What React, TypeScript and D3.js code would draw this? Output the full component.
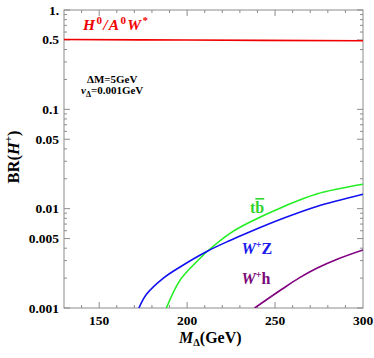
import { useEffect, useRef } from 'react';
import * as d3 from 'd3';

// masses (GeV) and branching ratios
const redMass = [130, 200, 300];
const redBR = [0.505, 0.498, 0.49];

const wzMass = [172.6, 177, 186.5, 196, 211.7, 224.4, 235.8, 254.7, 273.7, 300];
const wzBR = [0.001, 0.00138, 0.002, 0.00259, 0.00375, 0.00479, 0.00586, 0.008, 0.01052, 0.01396];

const tbMass = [188.2, 196, 205.4, 211.7, 224.4, 235.8, 254.7, 273.7, 300];
const tbBR = [0.001, 0.00191, 0.00292, 0.00375, 0.00565, 0.00734, 0.01047, 0.01406, 0.01759];

const whMass = [238.4, 254.7, 264, 273.7, 286, 300];
const whBR = [0.001, 0.00158, 0.00202, 0.00251, 0.00313, 0.00384];

const xTicks = [150, 200, 250, 300];
const yTicks = [1, 0.5, 0.1, 0.05, 0.01, 0.005, 0.001];
const yTickLabels = ['1.', '0.5', '0.1', '0.05', '0.01', '0.005', '0.001'];

const W = 374;
const H = 358;
const font = '"Liberation Serif", "Times New Roman", serif';

function App() {
  const svgRef = useRef<SVGSVGElement | null>(null);

  useEffect(() => {
    if (!svgRef.current) return;
    const svg = d3.select(svgRef.current);
    svg.selectAll('*').remove();

    const left = 64, right = 363, top = 10, bottom = 308;
    const x = d3.scaleLinear().domain([130, 300]).range([left, right]);
    const y = d3.scaleLog().domain([0.001, 1]).range([bottom, top]);

    const axisColor = '#8c8c8c';

    // frame
    svg.append('rect')
      .attr('x', left).attr('y', top)
      .attr('width', right - left).attr('height', bottom - top)
      .attr('fill', 'none').attr('stroke', axisColor).attr('stroke-width', 1);

    // x ticks (bottom and top)
    d3.range(140, 300, 10).forEach(v => {
      const len = v % 50 === 0 ? 6 : 3;
      const px = x(v);
      svg.append('line').attr('x1', px).attr('x2', px).attr('y1', bottom).attr('y2', bottom - len)
        .attr('stroke', axisColor);
      svg.append('line').attr('x1', px).attr('x2', px).attr('y1', top).attr('y2', top + len)
        .attr('stroke', axisColor);
    });

    // y ticks (left and right)
    const minor: number[] = [];
    [0.001, 0.01, 0.1].forEach(p => [2, 3, 4, 6, 7, 8, 9].forEach(d => minor.push(p * d)));
    minor.forEach(v => {
      const py = y(v);
      svg.append('line').attr('x1', left).attr('x2', left + 3).attr('y1', py).attr('y2', py).attr('stroke', axisColor);
      svg.append('line').attr('x1', right).attr('x2', right - 3).attr('y1', py).attr('y2', py).attr('stroke', axisColor);
    });
    yTicks.forEach(v => {
      const py = y(v);
      svg.append('line').attr('x1', left).attr('x2', left + 6).attr('y1', py).attr('y2', py).attr('stroke', axisColor);
      svg.append('line').attr('x1', right).attr('x2', right - 6).attr('y1', py).attr('y2', py).attr('stroke', axisColor);
    });

    // tick labels
    yTicks.forEach((v, i) => {
      svg.append('text')
        .attr('x', left - 5).attr('y', y(v))
        .attr('text-anchor', 'end').attr('dominant-baseline', 'central')
        .attr('font-family', font).attr('font-weight', 'bold').attr('font-size', 13.5)
        .text(yTickLabels[i]);
    });
    xTicks.forEach(v => {
      svg.append('text')
        .attr('x', x(v)).attr('y', 325)
        .attr('text-anchor', 'middle')
        .attr('font-family', font).attr('font-weight', 'bold').attr('font-size', 13.5)
        .text(v);
    });

    // curves
    const clip = svg.append('clipPath').attr('id', 'plotclip');
    clip.append('rect').attr('x', left).attr('y', top).attr('width', right - left).attr('height', bottom - top);

    const line = d3.line<[number, number]>()
      .x(d => x(d[0]))
      .y(d => y(d[1]))
      .curve(d3.curveCatmullRom.alpha(0.5));

    const series: { m: number[]; br: number[]; color: string }[] = [
      { m: redMass, br: redBR, color: '#f00000' },
      { m: tbMass, br: tbBR, color: '#22ee22' },
      { m: wzMass, br: wzBR, color: '#1010f0' },
      { m: whMass, br: whBR, color: '#800080' },
    ];
    series.forEach(s => {
      svg.append('path')
        .datum(s.m.map((m, i) => [m, s.br[i]] as [number, number]))
        .attr('d', line)
        .attr('fill', 'none')
        .attr('stroke', s.color)
        .attr('stroke-width', 1.6)
        .attr('clip-path', 'url(#plotclip)');
    });

    // curve labels
    const h0 = svg.append('text')
      .attr('x', 83).attr('y', 30)
      .attr('font-family', font).attr('font-weight', 'bold').attr('font-style', 'italic')
      .attr('font-size', 15.5).attr('fill', '#f00000')
      .attr('textLength', 65).attr('lengthAdjust', 'spacing');
    h0.append('tspan').text('H');
    h0.append('tspan').attr('font-size', 11).attr('dy', -6).attr('font-style', 'normal').text('0');
    h0.append('tspan').attr('dy', 6).text('/A');
    h0.append('tspan').attr('font-size', 11).attr('dy', -6).attr('font-style', 'normal').text('0');
    h0.append('tspan').attr('dy', 6).text('W');
    h0.append('tspan').attr('font-size', 11).attr('dy', -6).attr('font-style', 'normal').text('*');

    svg.append('text')
      .attr('x', 87).attr('y', 82.5)
      .attr('font-family', font).attr('font-weight', 'bold').attr('font-size', 11)
      .text('ΔM=5GeV');
    const vd = svg.append('text')
      .attr('x', 81).attr('y', 94)
      .attr('font-family', font).attr('font-weight', 'bold').attr('font-size', 11);
    vd.append('tspan').attr('font-style', 'italic').text('v');
    vd.append('tspan').attr('font-size', 8).attr('dy', 2.5).text('Δ');
    vd.append('tspan').attr('dy', -2.5).text('=0.001GeV');

    const tb = svg.append('text')
      .attr('x', 250).attr('y', 213)
      .attr('font-family', font).attr('font-weight', 'bold').attr('font-size', 16)
      .attr('fill', '#2fd42f');
    tb.append('tspan').text('t');
    tb.append('tspan').attr('text-decoration', 'overline').style('text-decoration', 'overline').text('b');

    const wLabel = (txt: string, yy: number, color: string) => {
      const t = svg.append('text')
        .attr('x', 241.5).attr('y', yy)
        .attr('font-family', font).attr('font-weight', 'bold').attr('font-size', 16)
        .attr('fill', color);
      t.append('tspan').attr('font-style', 'italic').text('W');
      t.append('tspan').attr('font-size', 10).attr('dy', -6).text('+');
      t.append('tspan').attr('dy', 6).text(txt);
    };
    wLabel('Z', 253.5, '#1a1aee');
    wLabel('h', 283.5, '#7a0a7a');

    // axis titles
    const yl = svg.append('text')
      .attr('transform', 'translate(19,157) rotate(-90)')
      .attr('text-anchor', 'middle')
      .attr('font-family', font).attr('font-weight', 'bold').attr('font-size', 16.5);
    yl.append('tspan').text('BR(');
    yl.append('tspan').attr('font-style', 'italic').text('H');
    yl.append('tspan').attr('font-size', 11).attr('dy', -7).text('+');
    yl.append('tspan').attr('dy', 7).text(')');

    const xl = svg.append('text')
      .attr('x', 179).attr('y', 343)
      .attr('font-family', font).attr('font-weight', 'bold').attr('font-size', 16);
    xl.append('tspan').attr('font-style', 'italic').text('M');
    xl.append('tspan').attr('font-size', 10.5).attr('dy', 3).text('Δ');
    xl.append('tspan').attr('dy', -3).text('(GeV)');

    return () => {
      d3.select(svgRef.current).selectAll('*').remove();
    };
  }, []);

  return (
    <div style={{ position: 'absolute', left: 0, top: 0 }}>
      <svg ref={svgRef} width={W} height={H} style={{ display: 'block', background: '#fff' }}></svg>
    </div>
  );
}

export default App;
